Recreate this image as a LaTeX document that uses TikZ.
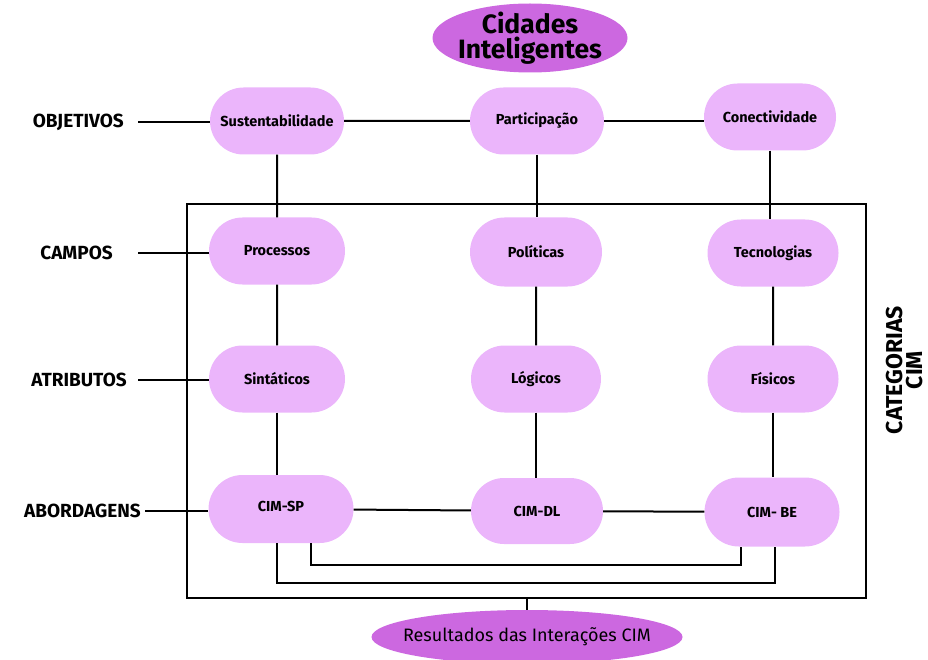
\documentclass[tikz,border=0pt]{standalone}
\usepackage{fontspec}
\setmainfont{Fira Sans}
\usetikzlibrary{shapes.misc,shapes.geometric,calc}
\definecolor{pillfill}{HTML}{EBB5FB}
\definecolor{ovalfill}{HTML}{CC68E0}
\tikzset{
  pill/.style={rounded rectangle, fill=pillfill, minimum width=134pt, minimum height=67pt,
    font=\fontsize{14.5}{16}\selectfont\bfseries, inner sep=0pt},
  oval/.style={ellipse, fill=ovalfill, inner sep=0pt},
  rowlabel/.style={font=\fontsize{19}{21}\selectfont\bfseries, inner sep=0pt},
  link/.style={line width=2pt, black},
  frameline/.style={line width=2.6pt, black}
}
\begin{document}
\begin{tikzpicture}[x=1pt,y=-1pt]
\useasboundingbox (0,0) rectangle (928,660);

% title and result ovals (text set in separate nodes so the ovals keep their size)
\node[oval, minimum width=195pt, minimum height=69pt] (city) at (530,38) {};
\node[align=center, inner sep=0pt, font=\fontsize{26.5}{25}\selectfont\bfseries] (citytext) at (city) {Cidades\\Inteligentes};
\node[oval, minimum width=311pt, minimum height=54pt] (res) at (527,637) {};
\node[inner sep=0pt, font=\fontsize{18}{20}\selectfont] (restext) at (res) {Resultados das Interações CIM};

% category frame
\node[draw, frameline, minimum width=679pt, minimum height=394pt, inner sep=0pt] (frame) at (526.5,401) {};
\node[rotate=90, align=center, inner sep=0pt, font=\fontsize{23}{20}\selectfont\bfseries] (cat) at (905,370) {CATEGORIAS\\CIM};

% row labels
\node[rowlabel, anchor=east] (lobj) at (124,122) {OBJETIVOS};
\node[rowlabel, anchor=east] (lcamp) at (113,253) {CAMPOS};
\node[rowlabel, anchor=east] (latr) at (127,380) {ATRIBUTOS};
\node[rowlabel, anchor=east] (labo) at (141,511) {ABORDAGENS};
\coordinate (eobj) at (138,122);
\coordinate (ecamp) at (138,253);
\coordinate (eatr) at (138,380);
\coordinate (eabo) at (145,511);

% objectives
\node[pill] (sus) at (277,121) {Sustentabilidade};
\node[pill] (par) at (537,121) {Participação};
\node[pill, minimum width=132pt] (con) at (770,117) {Conectividade};
% fields
\node[pill, minimum width=136pt] (pro) at (277,251) {Processos};
\node[pill, minimum width=132pt, minimum height=69pt] (pol) at (536,252) {Políticas};
\node[pill, minimum width=131pt] (tec) at (773,253) {Tecnologias};
% attributes
\node[pill, minimum width=136pt] (sin) at (277,379) {Sintáticos};
\node[pill, minimum width=130pt] (log) at (536,379) {Lógicos};
\node[pill, minimum width=131pt] (fis) at (773,379) {Físicos};
% approaches
\node[pill, minimum width=145pt, minimum height=68pt] (sp) at (281,509) {\raisebox{5pt}{CIM-SP}};
\node[pill, minimum width=132pt, minimum height=66pt] (dl) at (537,511) {CIM-DL};
\node[pill, minimum width=135pt, minimum height=69pt] (be) at (772,512) {CIM- BE};

% label connectors
\draw[link] (eobj) -- (sus.west |- eobj);
\draw[link] (ecamp) -- (pro.west |- ecamp);
\draw[link] (eatr) -- (sin.west |- eatr);
\draw[link] (eabo) -- (sp.west |- eabo);

% horizontal links
\draw[link] (sus) -- (par);
\draw[link] (par.east) -- (con.west |- par.east);
\draw[link] (sp) -- (dl);
\draw[link] (dl) -- (be);

% vertical links
\draw[link] (sus) -- (pro);
\draw[link] (pro) -- (sin);
\draw[link] (sin.south) -- (sin.south |- sp.north);
\draw[link] (par.south) -- (par.south |- pol.north);
\draw[link] (pol) -- (log);
\draw[link] (log.south) -- (log.south |- dl.north);
\draw[link] (con.south) -- (con.south |- tec.north);
\draw[link] (tec) -- (fis);
\draw[link] (fis.south) -- (fis.south |- be.north);

% loops between CIM-SP and CIM-BE
\draw[link] ([xshift=30pt]sp.south) -- ++(0,22) -| ([xshift=-31pt]be.south);
\draw[link] ([xshift=-4pt]sp.south) -- ++(0,40) -| ([xshift=3pt]be.south);

% frame to result
\draw[link] (frame.south) -- (frame.south |- res.north);
\end{tikzpicture}
\end{document}
